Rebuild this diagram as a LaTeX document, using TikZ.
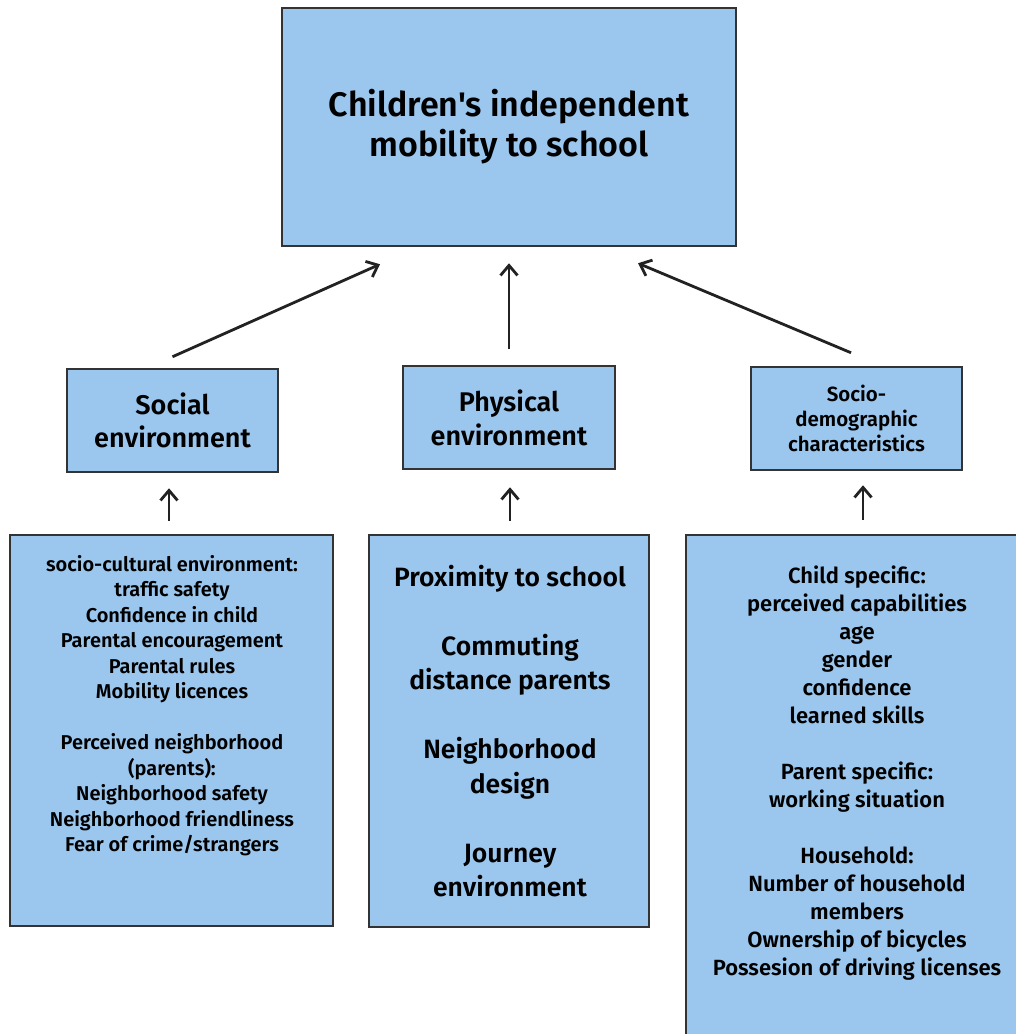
\documentclass[tikz,border=0pt]{standalone}
\usepackage{fontspec}
\setmainfont{Fira Sans}[BoldFont={Fira Sans SemiBold}, Ligatures=TeXOff]
\usetikzlibrary{arrows.meta}
\definecolor{boxfill}{HTML}{9BC7EE}
\definecolor{boxline}{HTML}{333333}
\definecolor{arrowline}{HTML}{222222}
\newcommand{\fsz}[2]{\fontsize{#1pt}{#2pt}\selectfont}
\tikzset{
  box/.style={draw=boxline, fill=boxfill, line width=2.5pt, rectangle,
    inner sep=0pt, align=center},
  paneltext/.style={anchor=north, align=center, inner sep=0pt},
  link/.style={draw=arrowline, line width=2.8pt,
    -{Straight Barb[length=10pt,width=17pt,line width=2.8pt]}}
}
\begin{document}
\begin{tikzpicture}[x=1pt,y=-1pt]
\useasboundingbox (0,0) rectangle (1016,1034);
\begin{scope}
\clip (0,0) rectangle (1016,1034);

% outcome
\node[box, minimum width=454pt, minimum height=238pt,
      font={\bfseries\fsz{34}{40}}] (top) at (509,127)
  {Children's independent\\mobility to school};

% three domains
\node[box, minimum width=211pt, minimum height=103pt,
      font={\bfseries\fsz{27}{33}}] (social) at (172.5,420.5)
  {Social\\environment};
\node[box, minimum width=212pt, minimum height=103pt,
      font={\bfseries\fsz{27}{34}}] (physical) at (509,417.5)
  {Physical\\environment};
\node[box, minimum width=211pt, minimum height=103pt,
      font={\bfseries\fsz{20.5}{25}}] (socio) at (856.5,418.5)
  {Socio-\\demographic\\characteristics};

% detail panels
\node[box, minimum width=323pt, minimum height=391pt] (socdet) at (171.5,730.5) {};
\node[box, minimum width=280pt, minimum height=392pt] (phydet) at (509,731) {};
\node[box, minimum width=344pt, minimum height=520pt] (demdet) at (858,795) {};

\node[paneltext, font={\bfseries\fsz{20}{25.5}}] (socdettext) at (172,555)
  {socio-cultural environment:\\traffic safety\\Confidence in child\\
  Parental encouragement\\Parental rules\\Mobility licences\\[25.5pt]
  Perceived neighborhood\\(parents):\\Neighborhood safety\\
  Neighborhood friendliness\\Fear of crime/strangers};

\node[paneltext, font={\bfseries\fsz{26.5}{34.5}}] (phydettext) at (510,565)
  {Proximity to school\\[34.5pt]Commuting\\distance parents\\[34.5pt]
  Neighborhood\\design\\[34.5pt]Journey\\environment};

\node[paneltext, font={\bfseries\fsz{22}{28}}] (demdettext) at (857,566)
  {Child specific:\\perceived capabilities\\age\\gender\\confidence\\
  learned skills\\[28pt]Parent specific:\\working situation\\[28pt]
  Household:\\Number of household\\members\\Ownership of bicycles\\
  Possesion of driving licenses};

% influences on the outcome
\draw[link] ([yshift=11pt]social.north) -- ([xshift=-129pt,yshift=-17pt]top.south);
\draw[link] ([yshift=16pt]physical.north) -- ([yshift=-16pt]top.south);
\draw[link] ([xshift=-5.5pt,yshift=13pt]socio.north) -- ([xshift=129pt,yshift=-16pt]top.south);

% details feeding each domain
\draw[link] ([xshift=-2.5pt,yshift=13pt]socdet.north) -- ([xshift=-3.5pt,yshift=-15pt]social.south);
\draw[link] ([xshift=1pt,yshift=13pt]phydet.north) -- ([xshift=1pt,yshift=-17pt]physical.south);
\draw[link] ([xshift=5pt,yshift=14pt]demdet.north) -- ([xshift=6.5pt,yshift=-14pt]socio.south);
\end{scope}
\end{tikzpicture}
\end{document}
